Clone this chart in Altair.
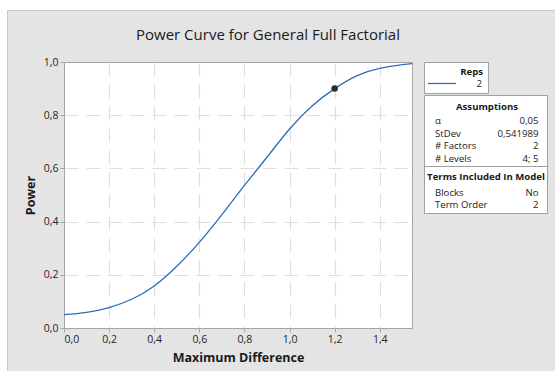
import altair as alt
import pandas as pd

# Power curve read at steps of the maximum difference
max_diff = [0.0, 0.1, 0.2, 0.3, 0.4, 0.5, 0.6, 0.7, 0.8, 0.9, 1.0, 1.1, 1.2, 1.3, 1.4, 1.5, 1.543]
power = [0.050, 0.059, 0.077, 0.108, 0.158, 0.232, 0.322, 0.426, 0.536, 0.642, 0.748, 0.835, 0.900, 0.949, 0.976, 0.990, 0.994]

# Highlighted design point
pt_diff = [1.2]
pt_power = [0.9]

# Assumption table rows
assume_labels = ["\u03b1", "StDev", "# Factors", "# Levels"]
assume_values = ["0,05", "0,541989", "2", "4; 5"]
terms_labels = ["Blocks", "Term Order"]
terms_values = ["No", "2"]
reps_value = "2"

FONT = "Open Sans"
W, H = 348, 266
BLUE = "#2e6db4"
INK = "#1a1a1a"
LEG_FS = 9.6

curve_df = pd.DataFrame({"diff": max_diff, "power": power})
pt_df = pd.DataFrame({"diff": pt_diff, "power": pt_power})

fmt = "replace(format(datum.value, '.1f'), '.', ',')"
# hide gridlines that would sit on the frame edges
grid_hide = {"condition": {"test": "datum.value <= 0 || datum.value >= 1", "value": 0}, "value": 1}

x_enc = alt.X("diff:Q", scale=alt.Scale(domain=[0, 1.543], nice=False, zero=False),
              axis=alt.Axis(title="Maximum Difference", values=[0, 0.2, 0.4, 0.6, 0.8, 1.0, 1.2, 1.4],
                            labelExpr=fmt, titleY=29, titleBaseline="middle",
                            gridOpacity={"condition": {"test": "datum.value <= 0", "value": 0}, "value": 1}))
y_enc = alt.Y("power:Q", scale=alt.Scale(domain=[0, 1], nice=False),
              axis=alt.Axis(title="Power", values=[0, 0.2, 0.4, 0.6, 0.8, 1.0],
                            labelExpr=fmt, titleX=-34, titleY=133, titleBaseline="middle",
                            gridOpacity=grid_hide))

curve = alt.Chart(curve_df).mark_line(color=BLUE, strokeWidth=1.3, interpolate="natural").encode(
    x=x_enc, y=y_enc)

point = alt.Chart(pt_df).mark_point(filled=True, color="#2b2b2b", size=42, opacity=1).encode(
    x="diff:Q", y="power:Q")

one = pd.DataFrame({"k": [0]})
base = alt.Chart(one)


def label(text, x, y, align="left", bold=False, size=LEG_FS):
    return base.mark_text(text=text, font=FONT, fontSize=size,
                          fontWeight="bold" if bold else "normal",
                          align=align, baseline="middle", color=INK).encode(
        x=alt.value(x), y=alt.value(y))


# White margin strips and the grey panel edge
strip_left = base.mark_rect(color="white").encode(
    x=alt.value(-64), x2=alt.value(-57), y=alt.value(-62), y2=alt.value(309))
strip_top = base.mark_rect(color="white").encode(
    x=alt.value(-64), x2=alt.value(491), y=alt.value(-62), y2=alt.value(-52))
edge_v = base.mark_rule(color="#c8c8c8", strokeWidth=1).encode(
    x=alt.value(-56.5), y=alt.value(-52), y2=alt.value(309))
edge_h = base.mark_rule(color="#c8c8c8", strokeWidth=1).encode(
    x=alt.value(-57), x2=alt.value(491), y=alt.value(-51.5))

title = label("Power Curve for General Full Factorial", 204, -27, align="center", size=15)

# Reps legend box
reps_box = base.mark_rect(fill="white", stroke="#a0a0a0", strokeWidth=1).encode(
    x=alt.value(360.5), x2=alt.value(424.5), y=alt.value(0.5), y2=alt.value(31.5))
reps_title = label("Reps", 419, 10, align="right", bold=True)
reps_line = base.mark_rule(color=BLUE, strokeWidth=1.3).encode(
    x=alt.value(364), x2=alt.value(392), y=alt.value(21.5))
reps_txt = label(reps_value, 418, 22, align="right")

# Assumptions box
as_box = base.mark_rect(fill="white", stroke="#a0a0a0", strokeWidth=1).encode(
    x=alt.value(360.5), x2=alt.value(483.5), y=alt.value(33.5), y2=alt.value(151.5))
as_div = base.mark_rule(color="#a0a0a0", strokeWidth=1).encode(
    x=alt.value(360.5), x2=alt.value(483.5), y=alt.value(104.5))
as_title = label("Assumptions", 423, 44.7, align="center", bold=True)
terms_title = label("Terms Included In Model", 422, 114.7, align="center", bold=True)

rows_y = [58.7, 71.5, 84.3, 97.1]
terms_y = [130.7, 143.0]
row_marks = []
for lab, val, yy in zip(assume_labels + terms_labels, assume_values + terms_values, rows_y + terms_y):
    row_marks.append(label(lab, 371, yy, align="left"))
    row_marks.append(label(val, 474.5, yy, align="right"))

chart = alt.layer(
    curve, point,
    strip_left, strip_top, edge_v, edge_h, title,
    reps_box, reps_title, reps_line, reps_txt,
    as_box, as_div, as_title, terms_title, *row_marks,
).properties(
    width=W, height=H,
    autosize=alt.AutoSizeParams(type="none"),
    padding={"left": 64, "top": 62, "right": 143, "bottom": 43},
    background="#e4e4e4",
).configure_view(
    fill="white", stroke="#a6a6a6", strokeWidth=1,
).configure_axis(
    labelFont=FONT, labelFontSize=10.5, labelColor="#262626",
    titleFont=FONT, titleFontSize=12.5, titleFontWeight="bold", titleColor=INK,
    domainColor="#a6a6a6", tickColor="#a6a6a6", tickSize=4, labelPadding=2,
    gridColor="#dedede", gridDash=[14, 8], gridWidth=1.2,
)

chart.save("out.html", embed_options={"renderer": "svg", "actions": False})
